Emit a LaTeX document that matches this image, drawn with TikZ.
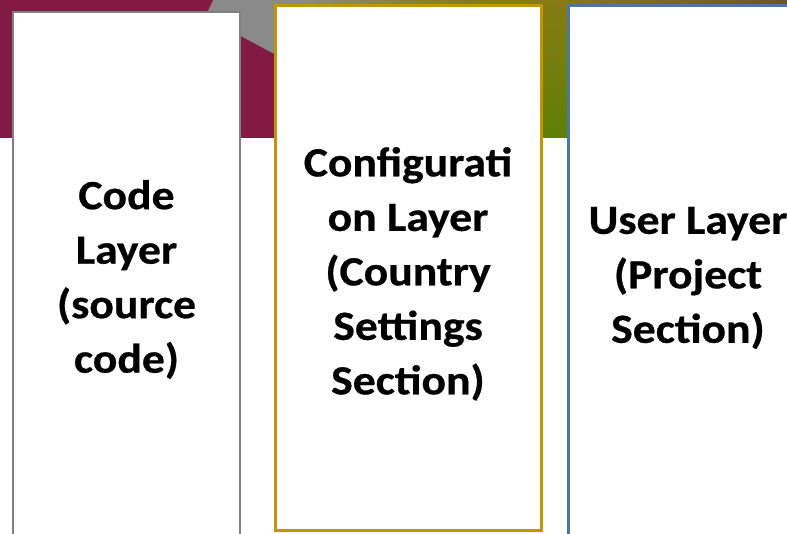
\documentclass[tikz,border=0pt]{standalone}
\usepackage{fontspec}
\setmainfont{Carlito}[FakeStretch=1.1, BoldFeatures={FakeBold=0.6}]
\usetikzlibrary{positioning}
\definecolor{bcrimson}{HTML}{821A46}
\definecolor{bgray}{HTML}{8A8A8A}
\definecolor{bolive}{HTML}{877B14}
\definecolor{bgreen}{HTML}{5F7F05}
\definecolor{bbrown}{HTML}{6E5519}
\definecolor{lgray}{HTML}{808080}
\definecolor{lgold}{HTML}{C39500}
\definecolor{lblue}{HTML}{4A76A8}
\tikzstyle{layer}=[rectangle, fill=white, line width=2.5, align=center, inner sep=0pt, font=\fontsize{41.5}{54.5}\selectfont\bfseries]

\begin{document}
\begin{tikzpicture}[x=1pt, y=-1pt]
    \useasboundingbox (0,0) rectangle (787,534);

    % band at the top
    \shade[top color=bolive, bottom color=bgreen] (0,0) rectangle (787,138);
    \shade[left color=bolive, right color=bbrown] (560,0) rectangle (787,8);
    \shade[left color=bgray, right color=bolive] (300,0) rectangle (480,8);
    \fill[bgray] (213,0) -- (205,17) -- (300,68) -- (300,0) -- cycle;
    \fill[bcrimson] (0,0) -- (213,0) -- (205,17) -- (300,68) -- (300,138) -- (0,138) -- cycle;

    \node[layer, draw=lgray, minimum width=227, minimum height=535] at (126.5,279.5) (code) {Code\\Layer\\(source\\code)};
    \node[layer, draw=lgold, line width=3, minimum width=266, minimum height=524] at (408,268) (conf) {\rule{0pt}{41pt}Configurati\\on Layer\\(Country\\Settings\\Section)};
    \node[layer, draw=lblue, line width=3, minimum width=240, minimum height=544] at (688,278) (user) {User Layer\\(Project\\Section)};

\end{tikzpicture}
\end{document}
